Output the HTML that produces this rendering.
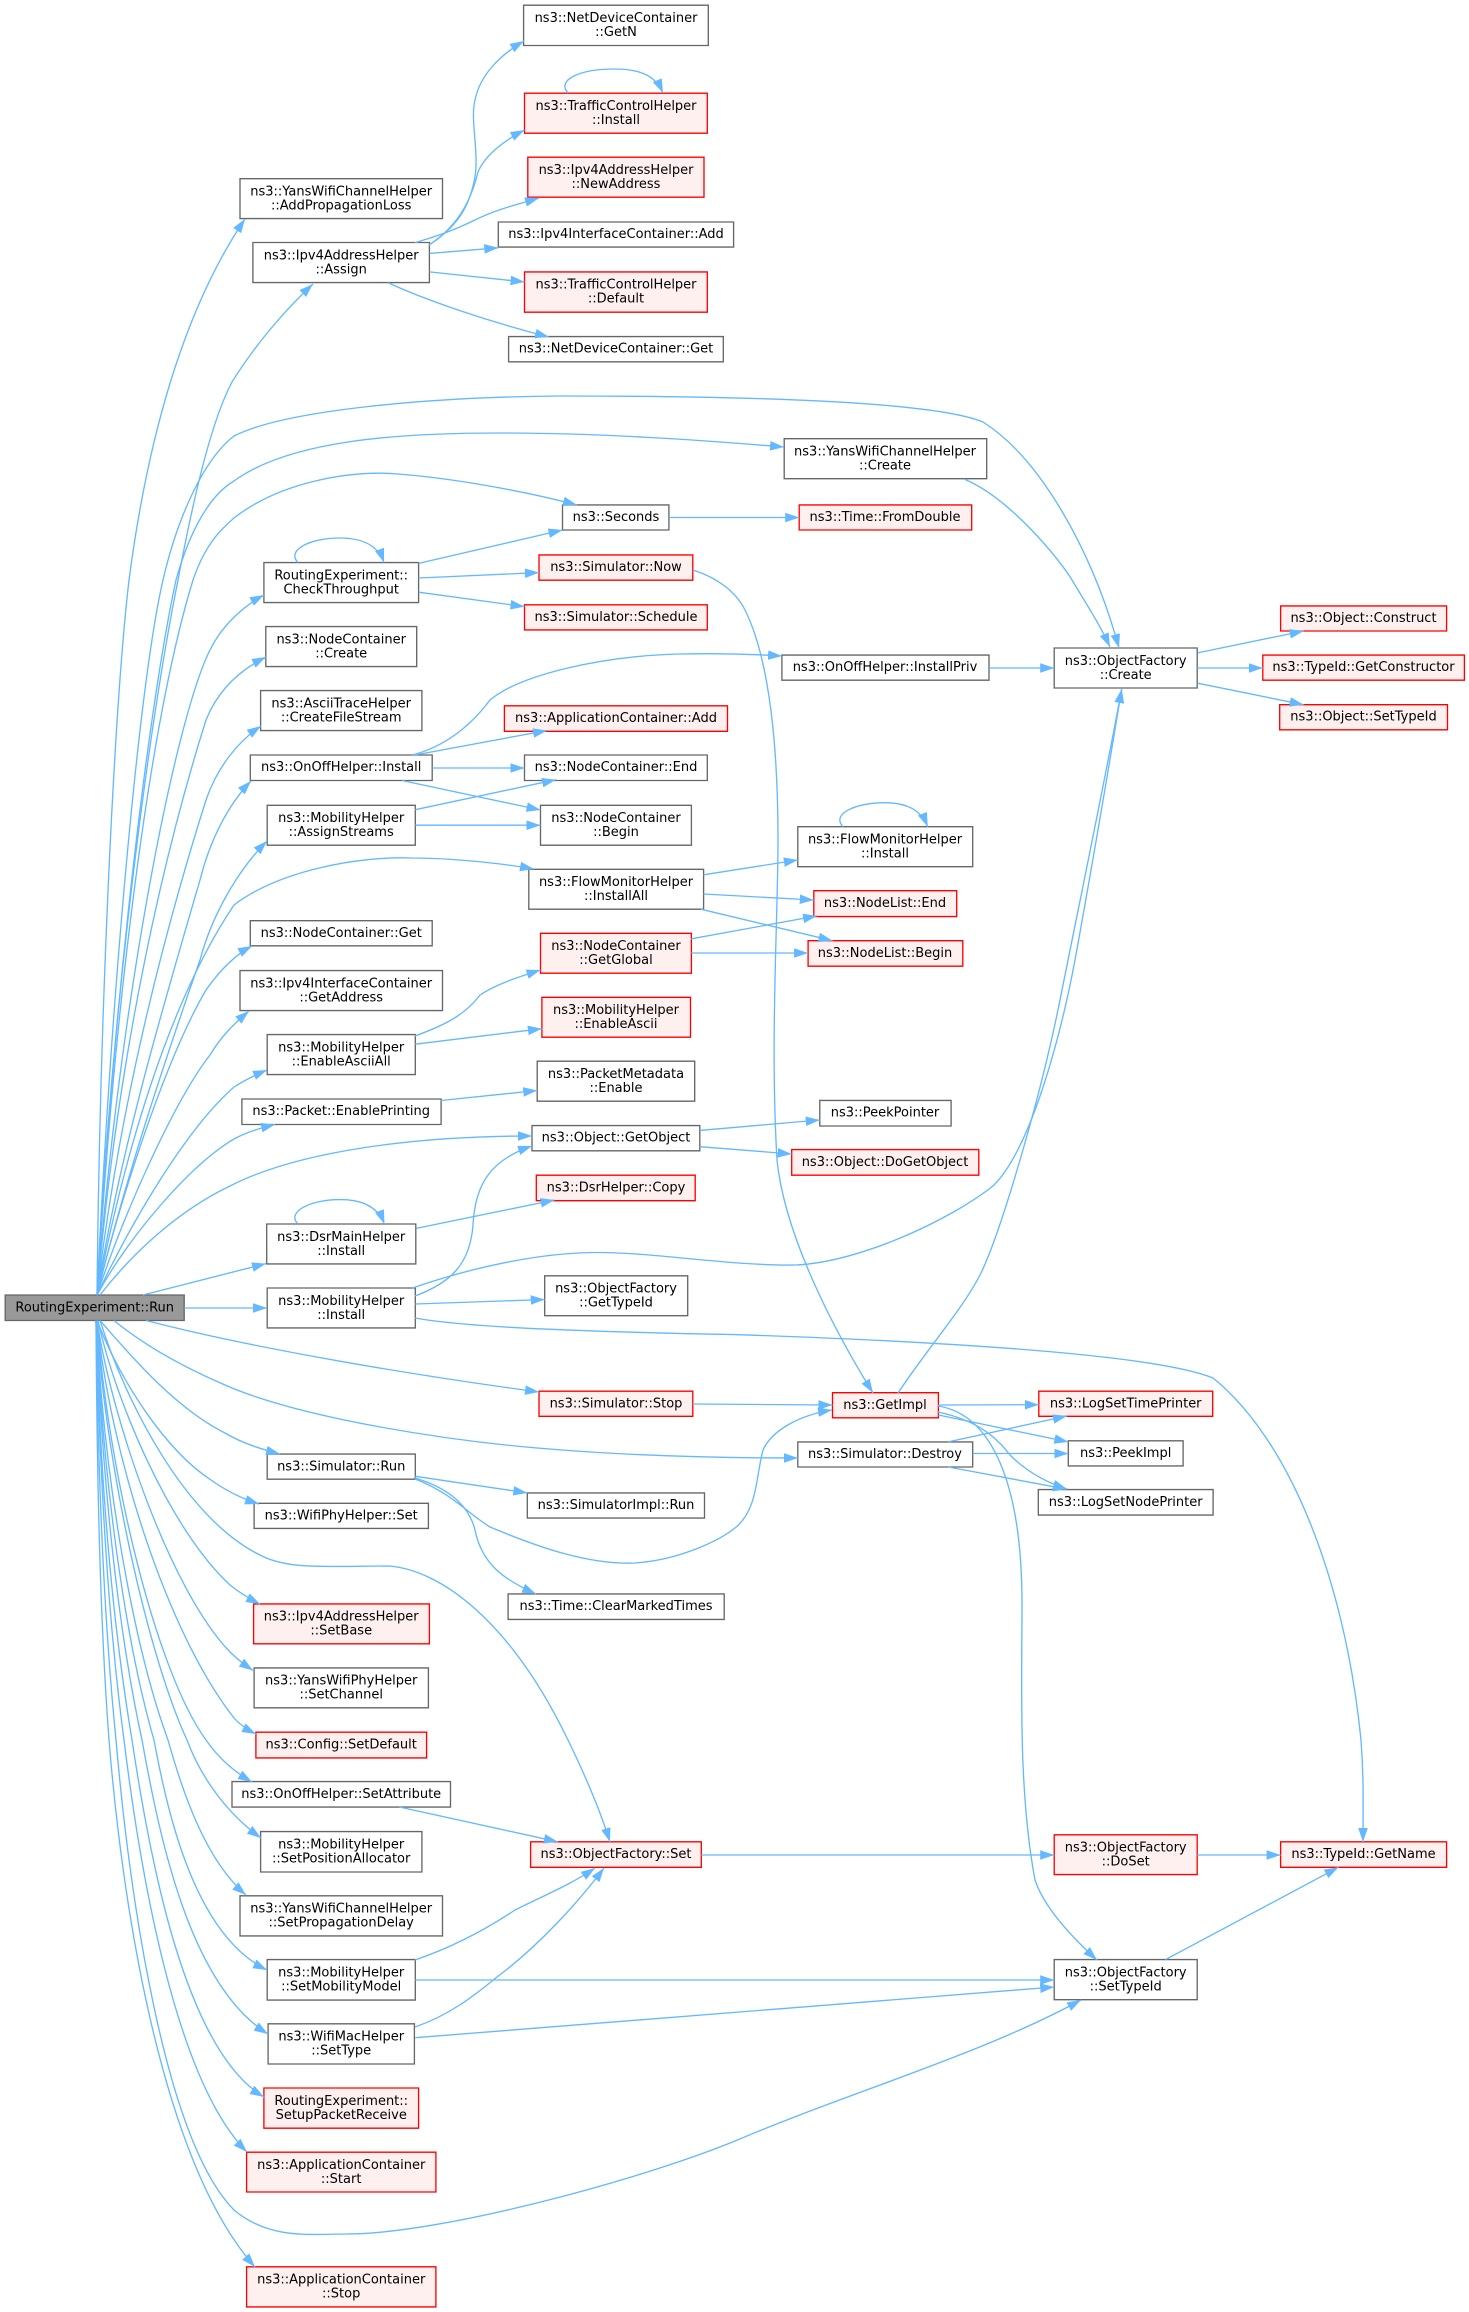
<!DOCTYPE html>
<html><head><meta charset="utf-8"><style>
html,body{margin:0;padding:0;background:#fff}
svg{display:block}
.n{fill:#fff;stroke:#666;stroke-width:1.33}
.r{fill:#fff0f0;stroke:#f00;stroke-width:1.33}
.g{fill:#999;stroke:#666;stroke-width:1.33}
text{font-family:"DejaVu Sans","Liberation Sans",sans-serif;font-size:13px;text-anchor:middle;fill:#000}
#e path{fill:none;stroke:#63b8ff;stroke-width:1.33;marker-end:url(#a)}
</style></head><body>
<svg xmlns="http://www.w3.org/2000/svg" width="1469" height="2312" viewBox="0 0 1469 2312">
<defs><marker id="a" markerUnits="userSpaceOnUse" viewBox="0 0 14 9.6" refX="14" refY="4.8" markerWidth="14" markerHeight="9.6" orient="auto"><path d="M0 0L14 4.8L0 9.6Z" fill="#63b8ff"/></marker></defs>
<g id="nodes">
<path class="n" d="M523.6 5.2H708.3V45.5H523.6Z"/><text x="616" y="22">ns3::NetDeviceContainer</text><text x="616" y="36">::GetN</text>
<path class="r" d="M524.5 93.2H707.3V133.2H524.5Z"/><text x="616" y="110">ns3::TrafficControlHelper</text><text x="616" y="124">::Install</text>
<path class="r" d="M527.8 157.2H704V197.2H527.8Z"/><text x="616" y="174">ns3::Ipv4AddressHelper</text><text x="616" y="188">::NewAddress</text>
<path class="n" d="M498.3 222H733.6V247.1H498.3Z"/><text x="616" y="238">ns3::Ipv4InterfaceContainer::Add</text>
<path class="r" d="M524.5 271.9H707.3V312.2H524.5Z"/><text x="616" y="288.7">ns3::TrafficControlHelper</text><text x="616" y="302.7">::Default</text>
<path class="n" d="M508.6 336.6H723.3V361.8H508.6Z"/><text x="616" y="352.6">ns3::NetDeviceContainer::Get</text>
<path class="n" d="M240 178.7H442.5V218.6H240Z"/><text x="341.2" y="195.5">ns3::YansWifiChannelHelper</text><text x="341.2" y="209.5">::AddPropagationLoss</text>
<path class="n" d="M252.9 242.5H429.4V282.6H252.9Z"/><text x="341.2" y="259.3">ns3::Ipv4AddressHelper</text><text x="341.2" y="273.3">::Assign</text>
<path class="n" d="M562.5 504.9H668.9V530H562.5Z"/><text x="616" y="521">ns3::Seconds</text>
<path class="r" d="M799.2 504.9H971.7V530H799.2Z"/><text x="885" y="521">ns3::Time::FromDouble</text>
<path class="n" d="M784.2 438.7H986.7V478.7H784.2Z"/><text x="885" y="455.5">ns3::YansWifiChannelHelper</text><text x="885" y="469.5">::Create</text>
<path class="n" d="M263.9 562.6H418.6V602.6H263.9Z"/><text x="341.2" y="579.4">RoutingExperiment::</text><text x="341.2" y="593.4">CheckThroughput</text>
<path class="r" d="M539 554.9H692.8V580.2H539Z"/><text x="616" y="571">ns3::Simulator::Now</text>
<path class="r" d="M524.5 604.8H707.3V629.9H524.5Z"/><text x="616" y="621">ns3::Simulator::Schedule</text>
<path class="n" d="M265.8 626.6H416.7V666.6H265.8Z"/><text x="341.2" y="643.4">ns3::NodeContainer</text><text x="341.2" y="657.4">::Create</text>
<path class="n" d="M260.6 690.6H421.9V730.6H260.6Z"/><text x="341.2" y="707.4">ns3::AsciiTraceHelper</text><text x="341.2" y="721.4">::CreateFileStream</text>
<path class="n" d="M250.3 755H432.2V780.5H250.3Z"/><text x="341.2" y="771">ns3::OnOffHelper::Install</text>
<path class="n" d="M267.2 805.3H415.3V845.2H267.2Z"/><text x="341.2" y="822.1">ns3::MobilityHelper</text><text x="341.2" y="836.1">::AssignStreams</text>
<path class="r" d="M504.4 705.8H727.5V731.3H504.4Z"/><text x="616" y="722">ns3::ApplicationContainer::Add</text>
<path class="n" d="M524.5 755H707.3V780.5H524.5Z"/><text x="616" y="771">ns3::NodeContainer::End</text>
<path class="n" d="M540.5 805.3H691.4V845.2H540.5Z"/><text x="616" y="822.1">ns3::NodeContainer</text><text x="616" y="836.1">::Begin</text>
<path class="n" d="M528.8 869.3H703.6V909.2H528.8Z"/><text x="616" y="886.1">ns3::FlowMonitorHelper</text><text x="616" y="900.1">::InstallAll</text>
<path class="n" d="M250.3 920.7H432.2V945.8H250.3Z"/><text x="341.2" y="937">ns3::NodeContainer::Get</text>
<path class="n" d="M240 970.6H442.5V1010.6H240Z"/><text x="341.2" y="987.4">ns3::Ipv4InterfaceContainer</text><text x="341.2" y="1001.4">::GetAddress</text>
<path class="r" d="M540.5 933.3H691.4V973.2H540.5Z"/><text x="616" y="950.1">ns3::NodeContainer</text><text x="616" y="964.1">::GetGlobal</text>
<path class="r" d="M541.9 997.3H690.5V1037.2H541.9Z"/><text x="616" y="1014.1">ns3::MobilityHelper</text><text x="616" y="1028.1">::EnableAscii</text>
<path class="n" d="M267.2 1034.6H415.3V1074.6H267.2Z"/><text x="341.2" y="1051.4">ns3::MobilityHelper</text><text x="341.2" y="1065.4">::EnableAsciiAll</text>
<path class="n" d="M537.2 1061.2H694.7V1101.2H537.2Z"/><text x="616" y="1078">ns3::PacketMetadata</text><text x="616" y="1092">::Enable</text>
<path class="n" d="M241.9 1099H441.1V1124.5H241.9Z"/><text x="341.2" y="1115">ns3::Packet::EnablePrinting</text>
<path class="n" d="M532 1125.6H699.8V1150.8H532Z"/><text x="616" y="1141.6">ns3::Object::GetObject</text>
<path class="n" d="M781.9 655.1H989V680.2H781.9Z"/><text x="885" y="671.1">ns3::OnOffHelper::InstallPriv</text>
<path class="n" d="M1054.2 648H1197.2V688H1054.2Z"/><text x="1125.7" y="664.8">ns3::ObjectFactory</text><text x="1125.7" y="678.8">::Create</text>
<path class="r" d="M1280.6 605.9H1446.6V631H1280.6Z"/><text x="1363.5" y="621.9">ns3::Object::Construct</text>
<path class="r" d="M1262.8 655.1H1464.4V680.2H1262.8Z"/><text x="1363.5" y="671.1">ns3::TypeId::GetConstructor</text>
<path class="r" d="M1279.7 704.7H1447.5V729.8H1279.7Z"/><text x="1363.5" y="720.7">ns3::Object::SetTypeId</text>
<path class="n" d="M797.8 826.7H972.7V866.7H797.8Z"/><text x="885" y="843.5">ns3::FlowMonitorHelper</text><text x="885" y="857.5">::Install</text>
<path class="r" d="M813.8 890.7H956.7V916.6H813.8Z"/><text x="885" y="906.9">ns3::NodeList::End</text>
<path class="r" d="M808.1 940.7H962.8V966.2H808.1Z"/><text x="885" y="956.9">ns3::NodeList::Begin</text>
<path class="n" d="M819.8 1100.4H951.1V1126H819.8Z"/><text x="885" y="1116.6">ns3::PeekPointer</text>
<path class="r" d="M791.7 1149.6H978.8V1175.2H791.7Z"/><text x="885" y="1165.8">ns3::Object::DoGetObject</text>
<path class="r" d="M536.3 1175.2H695.2V1200.7H536.3Z"/><text x="616" y="1191.4">ns3::DsrHelper::Copy</text>
<path class="n" d="M266.7 1224H415.8V1263.9H266.7Z"/><text x="341.2" y="1240.8">ns3::DsrMainHelper</text><text x="341.2" y="1254.8">::Install</text>
<path class="n" d="M267.2 1288H415.3V1327.9H267.2Z"/><text x="341.2" y="1304.8">ns3::MobilityHelper</text><text x="341.2" y="1318.8">::Install</text>
<path class="n" d="M544.7 1275.8H687.7V1315.7H544.7Z"/><text x="616" y="1292.6">ns3::ObjectFactory</text><text x="616" y="1306.6">::GetTypeId</text>
<path class="g" d="M5.2 1295H184.2V1320.5H5.2Z"/><text x="94.7" y="1311.5">RoutingExperiment::Run</text>
<path class="r" d="M539 1391.2H692.8V1416.3H539Z"/><text x="616" y="1407.4">ns3::Simulator::Stop</text>
<path class="n" d="M267.2 1454.1H415.3V1479.2H267.2Z"/><text x="341.2" y="1470.3">ns3::Simulator::Run</text>
<path class="n" d="M527.3 1492.9H704.5V1518.1H527.3Z"/><text x="616" y="1509.1">ns3::SimulatorImpl::Run</text>
<path class="n" d="M254.1 1503.3H428.4V1528.4H254.1Z"/><text x="341.2" y="1519.5">ns3::WifiPhyHelper::Set</text>
<path class="n" d="M508.1 1593.9H724.2V1619.4H508.1Z"/><text x="616" y="1610.1">ns3::Time::ClearMarkedTimes</text>
<path class="r" d="M253.6 1603.9H429.4V1643.8H253.6Z"/><text x="341.2" y="1620.7">ns3::Ipv4AddressHelper</text><text x="341.2" y="1634.7">::SetBase</text>
<path class="n" d="M254.1 1667.9H428.4V1707.8H254.1Z"/><text x="341.2" y="1684.7">ns3::YansWifiPhyHelper</text><text x="341.2" y="1698.7">::SetChannel</text>
<path class="r" d="M255.9 1732.2H426.6V1757.9H255.9Z"/><text x="341.2" y="1748.4">ns3::Config::SetDefault</text>
<path class="r" d="M832.5 1392.7H938.4V1417.8H832.5Z"/><text x="885" y="1408.9">ns3::GetImpl</text>
<path class="r" d="M1038.8 1391.2H1212.7V1416.3H1038.8Z"/><text x="1125.7" y="1407.4">ns3::LogSetTimePrinter</text>
<path class="n" d="M1068.3 1440.8H1183.1V1465.9H1068.3Z"/><text x="1125.7" y="1457">ns3::PeekImpl</text>
<path class="n" d="M797.8 1441.9H972.7V1467H797.8Z"/><text x="885" y="1458">ns3::Simulator::Destroy</text>
<path class="n" d="M1038.3 1489.6H1213.1V1515.1H1038.3Z"/><text x="1125.7" y="1505.8">ns3::LogSetNodePrinter</text>
<path class="n" d="M232 1781.6H450.5V1807.1H232Z"/><text x="341.2" y="1797.8">ns3::OnOffHelper::SetAttribute</text>
<path class="n" d="M260.6 1831.6H421.9V1872H260.6Z"/><text x="341.2" y="1848.5">ns3::MobilityHelper</text><text x="341.2" y="1862.5">::SetPositionAllocator</text>
<path class="n" d="M240 1895.8H442.5V1935.9H240Z"/><text x="341.2" y="1912.6">ns3::YansWifiChannelHelper</text><text x="341.2" y="1926.6">::SetPropagationDelay</text>
<path class="n" d="M267.2 1959.6H415.3V2000.1H267.2Z"/><text x="341.2" y="1976.4">ns3::MobilityHelper</text><text x="341.2" y="1990.4">::SetMobilityModel</text>
<path class="n" d="M268.1 2023.8H414.4V2064H268.1Z"/><text x="341.2" y="2040.6">ns3::WifiMacHelper</text><text x="341.2" y="2054.6">::SetType</text>
<path class="r" d="M263.9 2088H418.6V2128.2H263.9Z"/><text x="341.2" y="2104.8">RoutingExperiment::</text><text x="341.2" y="2118.8">SetupPacketReceive</text>
<path class="r" d="M246.6 2152.2H435.9V2192H246.6Z"/><text x="341.2" y="2169">ns3::ApplicationContainer</text><text x="341.2" y="2183">::Start</text>
<path class="r" d="M246.6 2266.8H435.9V2306.9H246.6Z"/><text x="341.2" y="2283.6">ns3::ApplicationContainer</text><text x="341.2" y="2297.6">::Stop</text>
<path class="r" d="M530.6 1841.8H701.3V1867.3H530.6Z"/><text x="616" y="1858">ns3::ObjectFactory::Set</text>
<path class="r" d="M1054.2 1834.8H1197.2V1874.6H1054.2Z"/><text x="1125.7" y="1851.6">ns3::ObjectFactory</text><text x="1125.7" y="1865.6">::DoSet</text>
<path class="r" d="M1280.6 1841.8H1446.6V1867.3H1280.6Z"/><text x="1363.5" y="1858">ns3::TypeId::GetName</text>
<path class="n" d="M1054.2 1959.6H1197.2V1999.7H1054.2Z"/><text x="1125.7" y="1976.4">ns3::ObjectFactory</text><text x="1125.7" y="1990.4">::SetTypeId</text>
</g>
<g id="e">
<path d="M97 1295C100 1000 115 700 129 580C150 420 190 300 245 219"/>
<path d="M97 1295C112 1000 150 720 178 580C195 490 212 420 232 382C255 345 285 310 313 284"/>
<path d="M97 1295C112 980 140 680 163 580C178 515 205 458 234 436C285 410 430 397 560 396C720 396 930 400 983 422C1040 458 1092 550 1119 648"/>
<path d="M97 1295C115 980 150 700 176 580C190 530 210 495 234 481C290 440 400 433 500 433C600 433 700 440 784 447"/>
<path d="M97 1295C115 1000 150 720 193 580C205 545 220 530 234 518C280 482 350 470 398 474C450 478 520 490 577 505"/>
<path d="M97 1295C120 1000 175 720 210 650C222 625 245 605 264 595"/>
<path d="M97 1295C118 1050 165 850 206 720C218 690 240 670 266 657"/>
<path d="M97 1295C120 1100 165 930 206 800C218 765 240 740 261 726"/>
<path d="M97 1295C120 1150 165 1000 200 880C210 840 228 805 251 781"/>
<path d="M97 1295C125 1180 165 1060 200 960C212 915 238 870 267 841"/>
<path d="M97 1295C125 1150 170 1000 234 905C280 870 360 856 412 858C450 858 500 863 534 869"/>
<path d="M97 1295C120 1200 165 1060 206 990C220 970 235 955 252 946"/>
<path d="M97 1295C125 1210 175 1100 210 1055C222 1035 235 1023 249 1011"/>
<path d="M97 1295C130 1225 185 1130 234 1087C245 1080 255 1075 267 1070"/>
<path d="M97 1295C130 1235 190 1165 234 1139C245 1133 260 1128 275 1124.5"/>
<path d="M100 1295C135 1250 180 1210 230 1186C300 1150 420 1136 532 1136"/>
<path d="M143 1295L266 1263.6"/>
<path d="M184.2 1308L267 1308"/>
<path d="M146 1320.5C260 1350 420 1376 539 1392"/>
<path d="M114 1320.5C150 1350 190 1370 225 1385C300 1418 450 1442 562 1450C640 1456 730 1458 798 1458"/>
<path d="M100 1320.5C130 1355 175 1408 225 1433C240 1442 260 1449 280 1454"/>
<path d="M97 1320.5C120 1380 165 1450 211 1480C225 1490 240 1498 259 1504"/>
<path d="M100 1320.5C125 1400 185 1520 262 1556C290 1570 330 1566 389 1566C440 1570 510 1620 568 1740C585 1775 600 1810 610 1842"/>
<path d="M98 1320.5C115 1400 170 1530 230 1585C240 1593 250 1599 260 1604"/>
<path d="M97 1320.5C112 1420 170 1590 230 1652C238 1660 245 1665 253 1670.5"/>
<path d="M97 1320.5C110 1450 165 1630 234 1718C240 1725 248 1730 256 1734"/>
<path d="M97 1320.5C108 1470 155 1670 206 1740C220 1760 235 1772 252 1782"/>
<path d="M96 1320.5C108 1480 150 1660 187 1740C200 1775 225 1812 261 1838"/>
<path d="M96 1320.5C105 1490 135 1650 168 1740C182 1790 205 1860 246 1895"/>
<path d="M96 1320.5C103 1480 125 1640 154 1740C168 1815 195 1935 267 1970"/>
<path d="M96 1320.5C102 1480 118 1630 142 1740C160 1840 190 1985 268 2034"/>
<path d="M96 1320.5C100 1480 112 1620 132 1740C150 1860 185 2050 264 2097"/>
<path d="M96 1320.5C100 1480 108 1620 124 1740C140 1870 175 2080 247 2152"/>
<path d="M96 1320.5C98 1480 104 1620 116 1740C130 1900 165 2140 234 2210C270 2240 310 2234 347 2234C440 2234 640 2180 735 2141C850 2092 980 2055 1081 2000"/>
<path d="M96 1320.5C97 1480 100 1620 109 1740C122 1900 160 2160 255 2267"/>
<path d="M429 245C455 228 469 210 475 177C479 150 470 120 475 100C480 75 500 55 524 41"/>
<path d="M429 245C455 228 470 205 478 172C485 155 505 140 524.5 130"/>
<path d="M415 242.7C440 235 455 230 475 220C495 210 515 205 539 198"/>
<path d="M429.4 253.4L498.3 247.8"/>
<path d="M429.4 271.9L524.5 281.9"/>
<path d="M388 282.6C425 300 490 322 549 337"/>
<path d="M568 93C556 80 580 69 614 69C640 69 655 75 663 93"/>
<path d="M668.9 517.5L799.2 517.5"/>
<path d="M964 479C1010 498 1060 560 1072 580C1090 610 1100 625 1110 647"/>
<path d="M298 562.6C286 550 310 538 340 538C362 538 378 545 384 562.6"/>
<path d="M418.6 563.4L562.5 530"/>
<path d="M418.6 578L539 572.6"/>
<path d="M418.6 592.2L524.5 606.6"/>
<path d="M693 570C715 577 735 590 745 610C770 660 778 750 778 840C778 920 770 1040 777 1160C785 1240 840 1340 873 1393"/>
<path d="M692.8 1404L832.5 1405"/>
<path d="M948.3 1441.9L1066.9 1416"/>
<path d="M972.7 1453.5L1068.3 1453.5"/>
<path d="M948.3 1467L1067 1489.2"/>
<path d="M938.4 1405L1038.8 1404.7"/>
<path d="M938.4 1415L1068.3 1441.9"/>
<path d="M938 1412C975 1420 995 1435 1010 1455C1025 1470 1045 1482 1067 1489"/>
<path d="M938 1406C990 1414 1022 1480 1022 1604C1022 1680 1018 1790 1035 1880C1045 1910 1075 1940 1097 1960"/>
<path d="M898 1393C930 1345 962 1310 980 1275C1000 1235 1040 1100 1060 1000C1080 900 1105 780 1121.7 689"/>
<path d="M412.5 1288C470 1268 540 1252 600 1252.5C660 1253 730 1266 796 1265C860 1262 950 1220 993 1186C1030 1150 1060 1040 1075 960C1095 850 1110 760 1121.7 689"/>
<path d="M415 1296C450 1283 470 1265 473 1225C475 1185 490 1160 532 1146"/>
<path d="M415.3 1304L544.7 1299.5"/>
<path d="M415 1318C470 1328 600 1332 735 1334.6C900 1340 1150 1352 1213 1378C1290 1440 1345 1580 1361 1740C1364 1780 1363 1810 1363 1842"/>
<path d="M298 1224C286 1212 310 1199.6 340 1199.6C362 1199.6 378 1207 384.4 1224"/>
<path d="M416.3 1228.4L554.5 1200"/>
<path d="M699.8 1130.4L819.8 1120"/>
<path d="M699.8 1146.7L791.7 1154"/>
<path d="M441 1100.5L537.2 1090.5"/>
<path d="M415 1036C445 1025 465 1015 480 995C495 985 515 978 540.5 970"/>
<path d="M415.3 1044.2L541.9 1028.7"/>
<path d="M691.4 938.8L817 915.9"/>
<path d="M691.4 953L808.1 953"/>
<path d="M703.6 874.8L797.8 860"/>
<path d="M703.6 894L813.8 900"/>
<path d="M700.8 909.2L832.5 940.7"/>
<path d="M843 826.7C831 814 855 802.7 885 802.7C907 802.7 921 810 927.7 826.7"/>
<path d="M412.5 755C450 745 475 720 490 700C520 675 600 656 680 654C720 653 750 654 782 656"/>
<path d="M415 755L547 730.5"/>
<path d="M432.2 768L524.5 768"/>
<path d="M402 780.5L540.5 810"/>
<path d="M415.3 809.7L556 779.7"/>
<path d="M415.3 825.2L540.5 825.2"/>
<path d="M989 668L1054.2 668"/>
<path d="M1197.6 652.9L1303.6 631"/>
<path d="M1197.2 668L1262.8 668"/>
<path d="M1197.6 683.2L1303.6 704.7"/>
<path d="M399.4 1807L557.8 1841.8"/>
<path d="M415 1960C450 1948 485 1930 515 1910C545 1895 570 1885 595 1868"/>
<path d="M415.3 1980L1054.2 1980"/>
<path d="M415 2027C450 2015 475 1995 497 1977C540 1945 580 1900 604 1868"/>
<path d="M415.3 2037.7C600 2022 850 2004 1054.2 1987"/>
<path d="M701.3 1855L1054.2 1855"/>
<path d="M1197.2 1855L1280.6 1855"/>
<path d="M1165.6 1959.6L1338.4 1867.3"/>
<path d="M415.3 1476.3L527.3 1492.9"/>
<path d="M415 1478C455 1490 470 1510 475 1530C482 1565 505 1580 536 1594"/>
<path d="M415 1479C450 1492 470 1515 490 1527C540 1548 590 1565 635 1563C680 1560 720 1540 735 1528C758 1510 756 1475 763 1450C772 1430 800 1415 832 1410"/>
</g>
</svg>
</body></html>
